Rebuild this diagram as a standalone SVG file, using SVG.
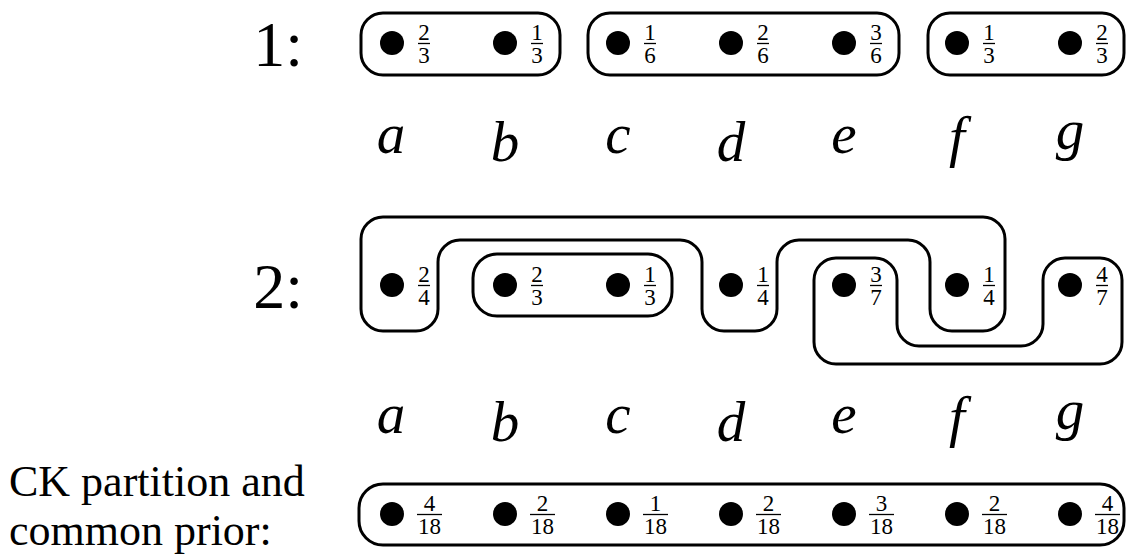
<svg xmlns="http://www.w3.org/2000/svg" width="1126" height="554" viewBox="0 0 1126 554">
<style>
.cell{fill:none;stroke:#000;stroke-width:3;stroke-linejoin:round}
.dot{fill:#000}
.frac{font-family:"Liberation Serif",serif;font-size:23px;text-anchor:middle;fill:#000}
.bar{stroke:#000;stroke-width:1.3}
.lbl{font-family:"Liberation Serif",serif;font-style:italic;font-size:57px;text-anchor:middle;fill:#000}
.num{font-family:"Liberation Serif",serif;font-size:64px;text-anchor:end;fill:#000}
.txt{font-family:"Liberation Serif",serif;font-size:44px;fill:#000}
</style>
<defs>
<g id="p1"><circle class="dot" cx="0" cy="0" r="12"/><line class="bar" x1="26" y1="0.5" x2="38" y2="0.5"/></g>
<g id="p2"><circle class="dot" cx="0" cy="0" r="12"/><line class="bar" x1="25" y1="0.5" x2="50" y2="0.5"/></g>
</defs>

<g id="row1">
<text class="num" x="303" y="66">1:</text>
<g id="r1-cell-ab"><rect class="cell" x="361" y="13" width="199" height="62" rx="22"/></g>
<g id="r1-cell-cde"><rect class="cell" x="588" y="13" width="311" height="62" rx="22"/></g>
<g id="r1-cell-fg"><rect class="cell" x="928" y="13" width="196" height="62" rx="22"/></g>
<g id="r1-a"><use href="#p1" x="392" y="43"/><text class="frac" x="424" y="40">2</text><text class="frac" x="424" y="63">3</text></g>
<g id="r1-b"><use href="#p1" x="505" y="43"/><text class="frac" x="537" y="40">1</text><text class="frac" x="537" y="63">3</text></g>
<g id="r1-c"><use href="#p1" x="618" y="43"/><text class="frac" x="650" y="40">1</text><text class="frac" x="650" y="63">6</text></g>
<g id="r1-d"><use href="#p1" x="731" y="43"/><text class="frac" x="763" y="40">2</text><text class="frac" x="763" y="63">6</text></g>
<g id="r1-e"><use href="#p1" x="844" y="43"/><text class="frac" x="876" y="40">3</text><text class="frac" x="876" y="63">6</text></g>
<g id="r1-f"><use href="#p1" x="957" y="43"/><text class="frac" x="989" y="40">1</text><text class="frac" x="989" y="63">3</text></g>
<g id="r1-g"><use href="#p1" x="1070" y="43"/><text class="frac" x="1102" y="40">2</text><text class="frac" x="1102" y="63">3</text></g>
</g>

<g id="labels1">
<text class="lbl" x="391" y="153">a</text>
<text class="lbl" x="505" y="161">b</text>
<text class="lbl" x="618" y="153">c</text>
<text class="lbl" x="731" y="161">d</text>
<text class="lbl" x="844" y="153">e</text>
<text class="lbl" x="957" y="156">f</text>
<text class="lbl" x="1070" y="149">g</text>
</g>

<g id="row2">
<text class="num" x="303" y="308">2:</text>
<g id="r2-cell-adf"><path class="cell" d="M383,217 H983 A22,22 0 0 1 1005,239 V309 A22,22 0 0 1 983,331 H952 A22,22 0 0 1 930,309 V262 A22,22 0 0 0 908,240 H799 A22,22 0 0 0 777,262 V309 A22,22 0 0 1 755,331 H724 A22,22 0 0 1 702,309 V262 A22,22 0 0 0 680,240 H460 A22,22 0 0 0 438,262 V309 A22,22 0 0 1 416,331 H383 A22,22 0 0 1 361,309 V239 A22,22 0 0 1 383,217 Z"/></g>
<g id="r2-cell-bc"><rect class="cell" x="473" y="254" width="199" height="62" rx="24"/></g>
<g id="r2-cell-eg"><path class="cell" d="M836,258 H875 A22,22 0 0 1 897,280 V324 A22,22 0 0 0 919,346 H1021 A22,22 0 0 0 1043,324 V280 A22,22 0 0 1 1065,258 H1100 A22,22 0 0 1 1122,280 V342 A22,22 0 0 1 1100,364 H836 A22,22 0 0 1 814,342 V280 A22,22 0 0 1 836,258 Z"/></g>
<g id="r2-a"><use href="#p1" x="392" y="285"/><text class="frac" x="424" y="282">2</text><text class="frac" x="424" y="305">4</text></g>
<g id="r2-b"><use href="#p1" x="505" y="285"/><text class="frac" x="537" y="282">2</text><text class="frac" x="537" y="305">3</text></g>
<g id="r2-c"><use href="#p1" x="618" y="285"/><text class="frac" x="650" y="282">1</text><text class="frac" x="650" y="305">3</text></g>
<g id="r2-d"><use href="#p1" x="731" y="285"/><text class="frac" x="763" y="282">1</text><text class="frac" x="763" y="305">4</text></g>
<g id="r2-e"><use href="#p1" x="844" y="285"/><text class="frac" x="876" y="282">3</text><text class="frac" x="876" y="305">7</text></g>
<g id="r2-f"><use href="#p1" x="957" y="285"/><text class="frac" x="989" y="282">1</text><text class="frac" x="989" y="305">4</text></g>
<g id="r2-g"><use href="#p1" x="1070" y="285"/><text class="frac" x="1102" y="282">4</text><text class="frac" x="1102" y="305">7</text></g>
</g>

<g id="labels2">
<text class="lbl" x="391" y="433">a</text>
<text class="lbl" x="505" y="441">b</text>
<text class="lbl" x="618" y="433">c</text>
<text class="lbl" x="731" y="441">d</text>
<text class="lbl" x="844" y="433">e</text>
<text class="lbl" x="957" y="436">f</text>
<text class="lbl" x="1070" y="429">g</text>
</g>

<g id="row3">
<text class="txt" x="9" y="496">CK partition and</text>
<text class="txt" x="9" y="545">common prior:</text>
<g id="r3-cell"><rect class="cell" x="359" y="484" width="765" height="61" rx="24"/></g>
<g id="r3-a"><use href="#p2" x="392" y="514"/><text class="frac" x="429.5" y="511">4</text><text class="frac" x="429.5" y="534">18</text></g>
<g id="r3-b"><use href="#p2" x="505" y="514"/><text class="frac" x="542.5" y="511">2</text><text class="frac" x="542.5" y="534">18</text></g>
<g id="r3-c"><use href="#p2" x="618" y="514"/><text class="frac" x="655.5" y="511">1</text><text class="frac" x="655.5" y="534">18</text></g>
<g id="r3-d"><use href="#p2" x="731" y="514"/><text class="frac" x="768.5" y="511">2</text><text class="frac" x="768.5" y="534">18</text></g>
<g id="r3-e"><use href="#p2" x="844" y="514"/><text class="frac" x="881.5" y="511">3</text><text class="frac" x="881.5" y="534">18</text></g>
<g id="r3-f"><use href="#p2" x="957" y="514"/><text class="frac" x="994.5" y="511">2</text><text class="frac" x="994.5" y="534">18</text></g>
<g id="r3-g"><use href="#p2" x="1070" y="514"/><text class="frac" x="1107.5" y="511">4</text><text class="frac" x="1107.5" y="534">18</text></g>
</g>
</svg>
